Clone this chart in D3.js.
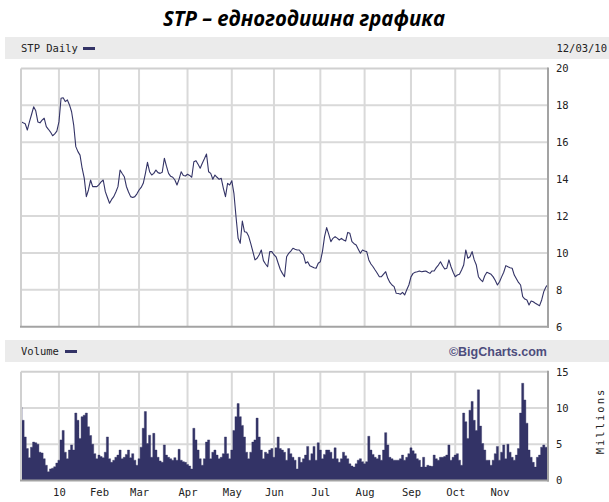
<!DOCTYPE html>
<html><head><meta charset="utf-8">
<script src="https://cdn.jsdelivr.net/npm/d3@7"></script>
<style>body{margin:0;background:#fff}svg{display:block}</style>
</head><body><svg id="c" width="609" height="502"></svg>
<script>
const titleText = "STP – едногодишна графика";
const priceLabel = "STP Daily";
const dateLabel = "12/03/10";
const volumeLabel = "Volume";
const creditText = "©BigCharts.com";
const unitsLabel = "Millions";
const startDate = "2009-12-07";
const endDate = "2010-12-03";
const holidays = ["2009-12-25","2010-01-01","2010-01-18","2010-02-15","2010-04-02","2010-05-31","2010-07-05","2010-09-06","2010-11-25"];
const monthLabels = ["10","Feb","Mar","Apr","May","Jun","Jul","Aug","Sep","Oct","Nov"];
const priceTicks = [6,8,10,12,14,16,18,20];
const volumeTicks = [0,5,10,15];

const prices = [
17.11,17.05,17.0,16.66,17.1,17.5,17.92,17.7,17.1,17.05,
17.2,17.3,16.84,16.7,16.55,16.35,16.45,16.6,17.1,18.38,
18.41,18.2,18.29,18.02,17.65,16.93,15.76,15.49,15.3,14.59,
14.05,13.05,13.41,13.95,13.59,13.6,13.59,13.7,13.85,13.95,
13.32,13.0,12.69,12.9,13.05,13.3,13.59,14.49,14.3,14.13,
13.6,13.3,13.05,13.0,13.05,13.2,13.41,13.55,13.77,14.3,
14.91,14.4,14.22,14.31,14.49,14.35,14.31,14.37,15.13,14.7,
14.31,14.15,14.1,13.95,13.68,14.0,14.4,14.2,14.17,14.26,
14.2,14.1,14.94,15.0,14.8,14.59,14.86,15.1,15.36,14.4,
14.31,13.99,14.22,14.1,13.99,14.04,13.5,13.05,13.77,13.68,
13.91,13.23,11.96,10.79,10.52,11.73,11.15,11.12,10.9,10.5,
10.07,9.62,9.71,9.9,10.16,9.58,9.4,9.25,10.07,10.07,
9.9,9.79,9.44,9.1,8.89,8.71,9.79,9.98,10.1,
10.25,10.2,10.16,10.16,10.0,9.89,9.44,9.52,9.3,9.25,
9.2,9.17,9.44,9.52,10.07,10.88,11.37,11.0,10.61,10.79,
10.88,10.8,10.7,10.79,10.7,10.64,11.11,11.06,10.61,10.5,
10.43,10.2,9.98,10.16,10.1,10.07,9.62,9.4,9.25,9.07,
8.9,8.71,8.71,8.85,8.98,8.62,8.4,8.26,8.17,7.81,
7.8,7.76,7.86,7.72,8.0,8.26,8.7,8.89,8.95,8.98,
9.02,8.98,9.0,9.02,8.95,8.89,9.02,9.02,9.2,9.34,
9.52,9.3,9.13,9.17,9.62,9.25,8.95,8.71,8.8,8.84,
9.07,9.34,10.16,9.71,9.79,10.07,9.62,9.34,8.71,8.55,
8.44,8.76,8.95,8.9,8.84,8.7,8.5,8.26,8.44,8.7,
8.95,9.31,9.25,9.2,9.17,8.8,8.6,8.4,8.26,7.63,
7.5,7.45,7.18,7.39,7.35,7.27,7.2,7.14,7.45,7.9,
8.15,8.3];

const volumes = [
10.1,8.3,6.0,4.4,3.15,4.6,5.3,5.2,5.0,3.9,
3.8,3.0,2.1,1.2,1.6,1.7,1.9,2.4,2.8,5.6,
6.9,3.9,3.0,4.2,4.9,4.2,9.3,8.3,5.8,8.8,
9.0,9.3,7.4,6.2,5.0,3.7,3.0,3.5,3.3,3.15,
3.9,6.0,3.0,2.5,2.8,3.2,3.5,4.2,3.0,3.2,
3.6,4.2,3.15,3.7,2.8,2.1,3.0,4.6,7.2,9.5,
5.1,6.25,3.2,6.5,4.2,3.2,2.7,2.5,4.9,3.5,
3.2,3.0,2.8,3.15,2.8,4.3,2.8,2.6,2.5,2.2,
2.0,1.6,7.2,5.6,4.2,3.0,2.1,3.0,5.3,5.6,
3.0,3.9,4.2,3.5,3.0,3.2,3.7,6.0,3.7,3.0,
4.2,6.9,8.8,10.6,8.8,7.6,6.0,3.9,3.0,3.9,
5.3,5.6,8.6,6.0,4.2,3.0,3.9,3.7,4.2,4.4,
3.2,4.5,6.0,4.4,4.2,3.9,2.8,4.4,3.7,
3.2,2.8,1.6,3.2,2.5,3.0,3.5,4.7,2.8,3.7,
4.7,2.8,5.2,4.2,3.0,3.6,4.2,4.2,3.9,3.0,
4.5,3.0,2.5,3.0,3.9,3.4,3.0,2.3,2.0,1.85,
2.3,2.8,3.0,2.6,2.3,2.6,6.1,4.2,3.6,3.2,
3.0,3.5,2.8,4.2,6.6,4.9,3.2,3.0,2.8,2.8,
2.8,3.0,3.5,2.8,3.2,3.7,4.5,4.1,3.7,3.0,
2.8,1.85,3.2,1.85,2.1,2.0,1.95,3.5,3.0,2.8,
3.2,3.2,3.3,3.5,4.9,2.8,3.2,3.5,3.7,2.8,
2.1,9.3,8.1,5.8,9.7,10.9,8.3,6.9,12.5,7.5,
5.1,4.2,2.8,2.8,2.1,2.8,3.7,4.7,2.8,3.9,
4.9,3.0,5.0,3.9,3.2,2.8,3.5,4.4,9.3,13.4,
11.1,7.9,4.2,3.2,2.5,1.85,3.2,3.5,4.6,4.9,
4.6,4.6];

const parse = d3.utcParse("%Y-%m-%d");
const fmt = d3.utcFormat("%Y-%m-%d");
const hol = new Set(holidays);
const days = d3.utcDay.range(parse(startDate), d3.utcDay.offset(parse(endDate), 1))
  .filter(d => d.getUTCDay() % 6 !== 0 && !hol.has(fmt(d)));
const n = Math.min(days.length, prices.length, volumes.length);

const monthIdx = [];
for (let m = 0; m < monthLabels.length; m++) {
  const i = days.findIndex(d => d.getUTCFullYear() === 2010 && d.getUTCMonth() === m);
  monthIdx.push(i);
}

const L = 21, R = 548;
const P = {top: 68.4, bottom: 326.7};
const V = {top: 371.7, bottom: 480.5};
const x = d3.scaleLinear().domain([0, n - 1]).range([L, R]);
const yP = d3.scaleLinear().domain([6, 20]).range([P.bottom, P.top]);
const yV = d3.scaleLinear().domain([0, 15]).range([V.bottom, V.top]);

const svg = d3.select("#c");
const mono = "'DejaVu Sans Mono', 'Liberation Mono', monospace";
const navy = "#333366";

// title
svg.append("text").attr("x", 304).attr("y", 26).attr("text-anchor", "middle")
  .attr("font-family", "'Open Sans', 'Noto Sans', sans-serif").attr("font-weight", "bold")
  .attr("font-style", "italic").attr("font-size", 21).attr("fill", "#000")
  .attr("textLength", 282).attr("lengthAdjust", "spacingAndGlyphs").text(titleText);

// header bands
function band(y, label, swX) {
  svg.append("rect").attr("x", 5).attr("y", y).attr("width", 604).attr("height", 22).attr("fill", "#ebebeb");
  svg.append("text").attr("x", 21).attr("y", y + 15).attr("font-family", mono).attr("font-size", 10.5)
    .attr("fill", "#222").text(label);
  svg.append("rect").attr("x", swX).attr("y", y + 10).attr("width", 12).attr("height", 3).attr("fill", navy);
}
band(37, priceLabel, 83);
band(340, volumeLabel, 65);
svg.append("text").attr("x", 607).attr("y", 52).attr("text-anchor", "end").attr("font-family", mono)
  .attr("font-size", 10.5).attr("fill", "#222").text(dateLabel);
svg.append("text").attr("x", 547).attr("y", 356).attr("text-anchor", "end")
  .attr("font-family", "'Liberation Sans', Arial, sans-serif").attr("font-weight", "bold")
  .attr("font-size", 12.5).attr("fill", "#4d4d7d").text(creditText);

// clip paths
const defs = svg.append("defs");
defs.append("clipPath").attr("id", "cp").append("rect").attr("x", L).attr("y", P.top).attr("width", R - L).attr("height", P.bottom - P.top);
defs.append("clipPath").attr("id", "cv").append("rect").attr("x", L).attr("y", V.top).attr("width", R - L).attr("height", V.bottom - V.top);

function panel(top, bottom, yScale, ticks) {
  const g = svg.append("g");
  g.append("rect").attr("x", L).attr("y", top).attr("width", R - L).attr("height", bottom - top).attr("fill", "#fff");
  g.selectAll(".vg").data(monthIdx).join("line")
    .attr("x1", d => x(d)).attr("x2", d => x(d)).attr("y1", top).attr("y2", bottom)
    .attr("stroke", "#d9d9d9").attr("stroke-width", 2);
  g.selectAll(".hg").data(ticks.slice(1, -1)).join("line")
    .attr("x1", L).attr("x2", R).attr("y1", d => yScale(d)).attr("y2", d => yScale(d))
    .attr("stroke", "#d9d9d9").attr("stroke-width", 2);
  return g;
}
function frame(top, bottom) {
  svg.append("line").attr("x1", L).attr("x2", R).attr("y1", top).attr("y2", top).attr("stroke", "#d0d0d0").attr("stroke-width", 2);
  svg.append("line").attr("x1", L).attr("x2", L).attr("y1", top).attr("y2", bottom).attr("stroke", "#d0d0d0").attr("stroke-width", 2);
  svg.append("line").attr("x1", R).attr("x2", R).attr("y1", top - 1).attr("y2", bottom + 1).attr("stroke", "#a3a3a3").attr("stroke-width", 2);
  svg.append("line").attr("x1", L - 1).attr("x2", R + 1).attr("y1", bottom).attr("y2", bottom).attr("stroke", "#a3a3a3").attr("stroke-width", 2);
}

panel(P.top, P.bottom, yP, priceTicks);
svg.append("path").datum(prices.slice(0, n)).attr("clip-path", "url(#cp)")
  .attr("d", d3.line().x((d, i) => x(i)).y(d => yP(d)))
  .attr("fill", "none").attr("stroke", navy).attr("stroke-width", 1.1).attr("stroke-linejoin", "round");
frame(P.top, P.bottom);

panel(V.top, V.bottom, yV, volumeTicks);
svg.append("path").datum(volumes.slice(0, n)).attr("clip-path", "url(#cv)")
  .attr("d", d3.area().curve(d3.curveStep).x((d, i) => x(i)).y0(yV(0)).y1(d => yV(d)))
  .attr("fill", navy).attr("stroke", navy).attr("stroke-width", 0.4);
frame(V.top, V.bottom);

// axes
function styleAxis(g) {
  g.select(".domain").remove();
  g.selectAll("text").attr("font-family", mono).attr("font-size", 10.5).attr("fill", "#222");
}
svg.append("g").attr("transform", `translate(${R},0)`)
  .call(d3.axisRight(yP).tickValues(priceTicks).tickSize(0).tickPadding(8).tickFormat(d3.format("d")))
  .call(styleAxis);
svg.append("g").attr("transform", `translate(${R},0)`)
  .call(d3.axisRight(yV).tickValues(volumeTicks).tickSize(0).tickPadding(8).tickFormat(d3.format("d")))
  .call(styleAxis);
svg.append("g").attr("transform", `translate(0,${V.bottom})`)
  .call(d3.axisBottom(x).tickValues(monthIdx).tickSize(0).tickPadding(8).tickFormat((d, i) => monthLabels[i]))
  .call(styleAxis);

svg.append("text").attr("transform", "translate(604,421) rotate(-90)").attr("text-anchor", "middle")
  .attr("font-family", mono).attr("font-size", 10.5).attr("letter-spacing", 2).attr("fill", "#222").text(unitsLabel);
</script></body></html>
